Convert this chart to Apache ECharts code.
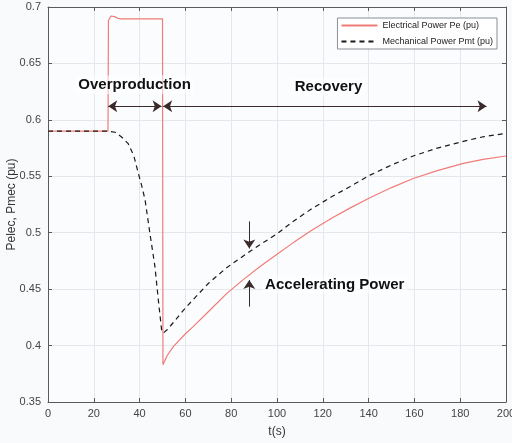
<!DOCTYPE html>
<html>
<head>
<meta charset="utf-8">
<script src="https://cdn.jsdelivr.net/npm/echarts@6/dist/echarts.min.js"></script>
<style>
  html, body { margin: 0; padding: 0; background: #f9fafc; }
  #chart { width: 512px; height: 443px; }
</style>
</head>
<body>
<div id="chart"></div>
<script>
// Electrical power Pe (pu) over time
const peTime = [0, 26.2, 26.4, 27.5, 29, 30.5, 32, 40, 50.0, 50.2, 52, 54.7, 59.8, 63.5, 70, 78, 85, 92.6, 100, 107, 115, 124, 132, 140.6, 150, 159.5, 170, 181.4, 190, 200];
const peVal  = [0.59, 0.59, 0.688, 0.692, 0.6915, 0.690, 0.6895, 0.6895, 0.6895, 0.383, 0.391, 0.399, 0.410, 0.417, 0.430, 0.446, 0.458, 0.470, 0.481, 0.491, 0.502, 0.513, 0.522, 0.531, 0.540, 0.548, 0.555, 0.5615, 0.565, 0.568];

// Mechanical power Pmt (pu) over time
const pmTime = [0, 26.3, 29.3, 32, 35, 37.5, 39.4, 41, 42.4, 44.5, 46.7, 48.2, 49.6, 50.3, 52, 55, 59, 63.5, 70, 78, 85, 90, 100, 107, 115, 124, 132, 140.6, 150, 159.5, 170, 181.4, 190, 200];
const pmVal  = [0.59, 0.59, 0.589, 0.585, 0.579, 0.568, 0.553, 0.541, 0.529, 0.4995, 0.470, 0.440, 0.414, 0.411, 0.414, 0.421, 0.431, 0.441, 0.455, 0.469, 0.479, 0.486, 0.499, 0.510, 0.521, 0.532, 0.541, 0.551, 0.560, 0.568, 0.575, 0.581, 0.585, 0.588];

const seriesNames = ['Electrical Power Pe (pu)', 'Mechanical Power Pmt (pu)'];
const xTicks = { min: 0, max: 200, step: 20 };
const yTicks = { min: 0.35, max: 0.7, step: 0.05 };

// Annotation texts and arrow spans (data coordinates)
const phaseLabels = [
  { text: 'Overproduction', t: 37.8, v: 0.631 },
  { text: 'Recovery', t: 122.5, v: 0.629 },
  { text: 'Accelerating Power', t: 93.5, v: 0.454, left: true }
];
const phaseSpans = [[26.3, 49.6], [50.3, 191.5]];
const spanLevel = 0.612;
const gapArrows = [
  { t: 87.9, from: 0.510, to: 0.486 },
  { t: 87.9, from: 0.4345, to: 0.458 }
];

const zip = (a, b) => a.map((x, i) => [x, b[i]]);

const chart = echarts.init(document.getElementById('chart'), null, { renderer: 'canvas' });

const axisLineStyle = { color: '#5a5a5a', width: 1 };
const gridLine = { show: true, lineStyle: { color: '#e4e7ec', width: 1 } };

const spanLines = [];
phaseSpans.forEach(([a, b]) => {
  spanLines.push([
    { coord: [a, spanLevel], symbol: 'arrow' },
    { coord: [b, spanLevel], symbol: 'arrow' }
  ]);
});
gapArrows.forEach(g => {
  spanLines.push([
    { coord: [g.t, g.from], symbol: 'none' },
    { coord: [g.t, g.to], symbol: 'arrow' }
  ]);
});

const option = {
  backgroundColor: '#f9fafc',
  animation: false,
  grid: {
    left: 48, top: 7, width: 458, height: 395,
    containLabel: false, outerBoundsMode: 'none',
    show: true, backgroundColor: '#fbfcfe', borderWidth: 0
  },
  legend: {
    right: 15, top: 18,
    orient: 'vertical',
    itemWidth: 36, itemHeight: 10, itemGap: 7,
    padding: [3, 4, 3, 3],
    borderColor: '#8a8f96', borderWidth: 1,
    backgroundColor: '#ffffff',
    itemStyle: { opacity: 0 },
    textStyle: { fontFamily: 'Liberation Sans, Arial', fontSize: 9, color: '#222' },
    data: seriesNames
  },
  xAxis: [{
    type: 'value', min: xTicks.min, max: xTicks.max, interval: xTicks.step,
    name: 't(s)', nameLocation: 'middle', nameGap: 24, nameMoveOverlap: false,
    nameTextStyle: { fontFamily: 'Liberation Sans, Arial', fontSize: 12, color: '#333' },
    axisLine: { show: true, onZero: false, lineStyle: axisLineStyle },
    axisTick: { show: true, inside: true, length: 4, lineStyle: axisLineStyle },
    axisLabel: { fontFamily: 'Liberation Sans, Arial', fontSize: 11, color: '#444', margin: 6 },
    splitLine: gridLine
  }, {
    type: 'value', position: 'top', min: xTicks.min, max: xTicks.max, interval: xTicks.step,
    axisLine: { show: true, onZero: false, lineStyle: axisLineStyle },
    axisTick: { show: true, inside: true, length: 4, lineStyle: axisLineStyle },
    axisLabel: { show: false }, splitLine: { show: false }
  }],
  yAxis: [{
    type: 'value', min: yTicks.min, max: yTicks.max, interval: yTicks.step,
    name: 'Pelec, Pmec (pu)', nameLocation: 'middle', nameGap: 30, nameMoveOverlap: false,
    nameTextStyle: { fontFamily: 'Liberation Sans, Arial', fontSize: 12, color: '#333' },
    axisLine: { show: true, onZero: false, lineStyle: axisLineStyle },
    axisTick: { show: true, inside: true, length: 4, lineStyle: axisLineStyle },
    axisLabel: { fontFamily: 'Liberation Sans, Arial', fontSize: 11, color: '#444', margin: 7,
      formatter: v => String(+v.toFixed(2)) },
    splitLine: gridLine
  }, {
    type: 'value', position: 'right', min: yTicks.min, max: yTicks.max, interval: yTicks.step,
    axisLine: { show: true, onZero: false, lineStyle: axisLineStyle },
    axisTick: { show: true, inside: true, length: 4, lineStyle: axisLineStyle },
    axisLabel: { show: false }, splitLine: { show: false }
  }],
  series: [
    {
      name: seriesNames[0], type: 'line', data: zip(peTime, peVal),
      symbol: 'none', color: '#f07c78',
      lineStyle: { width: 1.2, color: '#f07c78' }
    },
    {
      name: seriesNames[1], type: 'line', data: zip(pmTime, pmVal),
      symbol: 'none', color: '#1a1a1a',
      lineStyle: { width: 1.2, color: '#1a1a1a', type: [5, 4] }
    },
    {
      name: 'notes', type: 'scatter', data: [], silent: true,
      markLine: {
        silent: true, symbolSize: [9, 9],
        lineStyle: { color: '#3a2a2a', width: 1, type: 'solid' },
        itemStyle: { color: '#000' },
        label: { show: false },
        data: spanLines
      },
      markPoint: {
        silent: true, symbol: 'circle', symbolSize: 0,
        data: phaseLabels.map(p => ({
          coord: [p.t, p.v],
          label: {
            show: true, formatter: p.text,
            position: p.left ? 'right' : 'inside',
            distance: 0,
            fontFamily: 'Liberation Sans, Arial', fontWeight: 'bold', fontSize: 15, color: '#111',
            backgroundColor: 'rgba(255,255,255,0.55)', padding: [2, 3]
          }
        }))
      }
    }
  ]
};

chart.setOption(option);
</script>
</body>
</html>
